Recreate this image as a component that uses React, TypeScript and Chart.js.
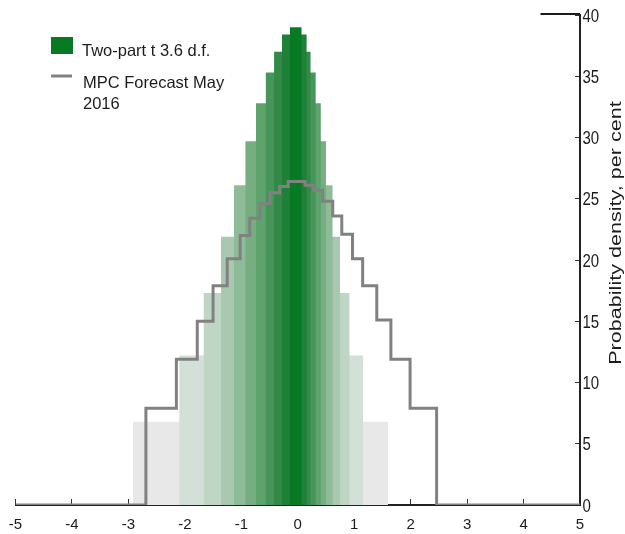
import React, { useEffect, useRef } from "react";
import { Chart, registerables } from "chart.js";

Chart.register(...registerables);

// Fan layers of the two-part t density, innermost (darkest) first.
const layerLeft = [-0.14, -0.28, -0.42, -0.57, -0.74, -0.93, -1.13, -1.36, -1.67, -2.1, -2.92];
const layerRight = [0.07, 0.16, 0.23, 0.32, 0.41, 0.5, 0.62, 0.75, 0.92, 1.16, 1.6];
const layerHeight = [39.0, 38.4, 37.0, 35.3, 32.8, 29.7, 26.1, 21.9, 17.3, 12.2, 6.8];
const layerColours = [
  "#077a23", "#1f8038", "#338a48", "#46955a", "#5ea26c", "#76ae82",
  "#8fbc98", "#a8c9b0", "#bfd6c5", "#d3e0d8", "#e8e8e8",
];

// MPC forecast: bin edges and the density held over each bin.
const mpcEdges = [
  -2.69, -2.15, -1.78, -1.5, -1.25, -1.02, -0.85, -0.67, -0.49, -0.32, -0.17,
  0.13, 0.28, 0.44, 0.62, 0.78, 0.97, 1.15, 1.4, 1.65, 1.99, 2.46,
];
const mpcDensity = [
  7.9, 11.9, 15.0, 17.9, 20.1, 22.0, 23.4, 24.6, 25.5, 26.0, 26.4,
  26.1, 25.7, 24.8, 23.6, 22.1, 20.1, 17.9, 15.1, 11.9, 7.9,
];

const xTicks = [-5, -4, -3, -2, -1, 0, 1, 2, 3, 4, 5];
const yTicks = [0, 5, 10, 15, 20, 25, 30, 35, 40];

const fanLabel = "Two-part t 3.6 d.f.";
const mpcLabelLines = ["MPC Forecast May", "2016"];
const yTitle = "Probability density, per cent";

const MPC_GREY = "#818181";
const INK = "#1c1c1c";
const SANS = '"Liberation Sans", Arial, sans-serif';

const mpcPoints = [
  { x: xTicks[0], y: 0 },
  ...mpcEdges.map((e, i) => ({ x: e, y: i < mpcDensity.length ? mpcDensity[i] : 0 })),
  { x: xTicks[xTicks.length - 1], y: 0 },
];

const overlay = {
  id: "overlay",
  afterDraw(chart: any) {
    const { ctx, scales } = chart;
    const x = scales.x;
    const y = scales.y;
    ctx.save();

    // short rule at the top of the right axis
    ctx.strokeStyle = INK;
    ctx.lineWidth = 2;
    ctx.beginPath();
    ctx.moveTo(x.getPixelForValue(4.3), y.getPixelForValue(40) - 1);
    ctx.lineTo(x.getPixelForValue(5), y.getPixelForValue(40) - 1);
    ctx.stroke();

    // right-axis tick labels, drawn tall and narrow
    ctx.fillStyle = INK;
    ctx.font = `15px ${SANS}`;
    ctx.textAlign = "left";
    ctx.textBaseline = "middle";
    for (const v of yTicks) {
      const py = y.getPixelForValue(v);
      ctx.save();
      ctx.translate(x.right + 2.5, py + 1.5);
      ctx.scale(1, 1.25);
      ctx.fillText(String(v), 0, 0);
      ctx.restore();
    }

    // legend
    ctx.fillStyle = layerColours[0];
    ctx.fillRect(51, 37, 22, 17);
    ctx.strokeStyle = MPC_GREY;
    ctx.lineWidth = 3;
    ctx.beginPath();
    ctx.moveTo(51, 76);
    ctx.lineTo(72, 76);
    ctx.stroke();

    ctx.fillStyle = INK;
    ctx.font = `16.5px ${SANS}`;
    ctx.textAlign = "left";
    ctx.textBaseline = "alphabetic";
    ctx.fillText(fanLabel, 82, 56);
    ctx.fillText(mpcLabelLines[0], 83, 88);
    ctx.fillText(mpcLabelLines[1], 83, 109);

    // right-hand axis title
    ctx.translate(617, 233);
    ctx.rotate(-Math.PI / 2);
    ctx.scale(1.35, 1);
    ctx.font = `16px ${SANS}`;
    ctx.textAlign = "center";
    ctx.textBaseline = "middle";
    ctx.fillText(yTitle, 0, 0);
    ctx.restore();
  },
};

export default function App() {
  const canvasRef = useRef<HTMLCanvasElement | null>(null);

  useEffect(() => {
    const canvas = canvasRef.current;
    if (!canvas) return;

    const datasets: any[] = [
      {
        label: mpcLabelLines.join(" "),
        data: mpcPoints,
        stepped: true,
        borderColor: MPC_GREY,
        borderWidth: 3,
        pointRadius: 0,
        fill: false,
      },
      ...layerLeft.map((l, i) => ({
        label: `${fanLabel} ${i + 1}`,
        data: [
          { x: l, y: 0 },
          { x: l, y: layerHeight[i] },
          { x: layerRight[i], y: layerHeight[i] },
          { x: layerRight[i], y: 0 },
        ],
        borderWidth: 0,
        pointRadius: 0,
        backgroundColor: layerColours[i],
        fill: "origin",
      })),
    ];

    const chart = new Chart(canvas, {
      type: "line",
      data: { datasets },
      plugins: [overlay],
      options: {
        animation: false,
        responsive: false,
        events: [],
        layout: { padding: { left: 15.5, top: 15, right: 0, bottom: 0 } },
        plugins: { legend: { display: false }, tooltip: { enabled: false } },
        scales: {
          x: {
            type: "linear",
            z: 1,
            min: xTicks[0],
            max: xTicks[xTicks.length - 1],
            afterBuildTicks: (s: any) => {
              s.ticks = xTicks.map((v) => ({ value: v }));
            },
            afterFit: (s: any) => {
              s.height = 29;
              s.paddingLeft = 0;
              s.paddingRight = 0;
            },
            grid: {
              display: true,
              drawOnChartArea: false,
              drawTicks: true,
              tickLength: -6,
              color: "#333",
              lineWidth: 1,
            },
            border: { display: true, color: "#222", width: 2 },
            ticks: {
              padding: 16.5,
              color: INK,
              font: { family: SANS, size: 15 },
              maxRotation: 0,
            },
          },
          y: {
            type: "linear",
            position: "right",
            z: 1,
            min: yTicks[0],
            max: yTicks[yTicks.length - 1],
            afterBuildTicks: (s: any) => {
              s.ticks = yTicks.map((v) => ({ value: v }));
            },
            afterFit: (s: any) => {
              s.width = 45;
              s.paddingTop = 0;
              s.paddingBottom = 0;
            },
            grid: {
              display: true,
              drawOnChartArea: false,
              drawTicks: true,
              tickLength: -5,
              color: "#333",
              lineWidth: 1,
            },
            border: { display: true, color: "#222", width: 2 },
            ticks: { display: false },
          },
        },
      } as any,
    });

    return () => chart.destroy();
  }, []);

  return (
    <div style={{ position: "fixed", left: 0, top: 0, width: 625, height: 534, background: "#fff" }}>
      <canvas ref={canvasRef} width={625} height={534} style={{ display: "block" }} />
    </div>
  );
}
